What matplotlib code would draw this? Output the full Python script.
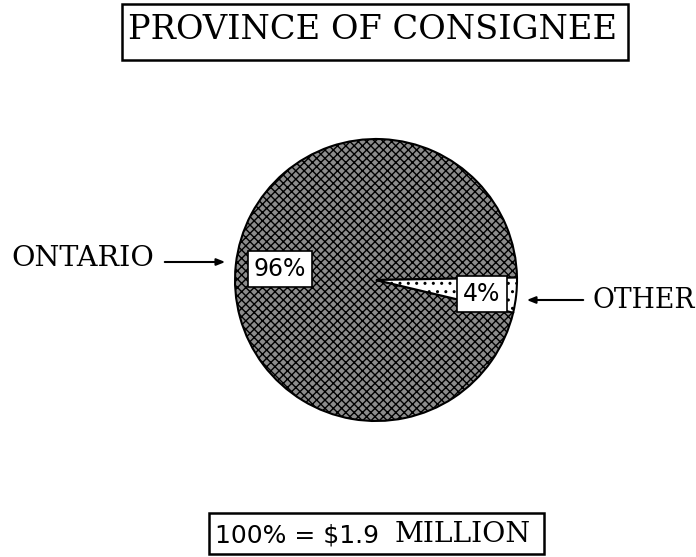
import numpy as np
import matplotlib.pyplot as plt
from matplotlib.patches import Rectangle

plt.rcParams['hatch.linewidth'] = 1.0

# data
provinces = ['ONTARIO', 'OTHER']
shares = [96, 4]
total_millions = 1.9
title = 'PROVINCE OF CONSIGNEE'

W, H = 696, 557
serif = 'DejaVu Serif'
sans = 'DejaVu Sans'

fig = plt.figure(figsize=(W / 100, H / 100), dpi=100)
ax = fig.add_axes([0, 0, 1, 1])

# pie (pixel coordinates, y measured from the bottom)
cx, cy, r = 376, H - 280, 141
wedges, _ = ax.pie(shares, startangle=1, center=(cx, cy), radius=r,
                   colors=['white', 'white'],
                   wedgeprops=dict(edgecolor='black', linewidth=1.5))
wedges[0].set_hatch('xxxx')
wedges[0].set_facecolor('#8c8c8c')
wedges[1].set_hatch('..')

ax.set_xlim(0, W)
ax.set_ylim(0, H)
ax.set_aspect('auto')
ax.axis('off')


def fit_width(t, width):
    # scale the font so the text spans the given pixel width
    fig.canvas.draw()
    w = t.get_window_extent().width
    t.set_fontsize(t.get_fontsize() * width / w)


# percentage boxes
ax.text(280, H - 269, f'{shares[0]}%', family=sans, fontsize=17, ha='center', va='center',
        bbox=dict(boxstyle='square,pad=0.25', fc='white', ec='black', lw=1.2))
ax.text(482, H - 294, f'{shares[1]}%', family=sans, fontsize=17, ha='center', va='center',
        bbox=dict(boxstyle='square,pad=0.25', fc='white', ec='black', lw=1.2))

# category labels with arrows
t1 = ax.text(11, H - 258, provinces[0], family=serif, fontsize=20, ha='left', va='center')
fit_width(t1, 142)
ax.annotate('', xy=(228, H - 262), xytext=(162, H - 262),
            arrowprops=dict(arrowstyle='-|>,head_length=0.5,head_width=0.2', lw=1.5, color='black'))
t2 = ax.text(695, H - 300, provinces[1], family=serif, fontsize=20, ha='right', va='center')
fit_width(t2, 102)
ax.annotate('', xy=(524, H - 300), xytext=(586, H - 300),
            arrowprops=dict(arrowstyle='-|>,head_length=0.5,head_width=0.2', lw=1.5, color='black'))

# title box
ax.add_patch(Rectangle((122, H - 60), 506, 56, fill=False, lw=1.8, ec='black'))
t3 = ax.text(373, H - 30, title, family=serif, fontsize=20, ha='center', va='center')
fit_width(t3, 488)

# total box
ax.add_patch(Rectangle((209, H - 554), 335, 41, fill=False, lw=1.8, ec='black'))
ax.text(215, H - 535, f'100% = ${total_millions}', family=sans, fontsize=18, ha='left', va='center')
t4 = ax.text(531, H - 535, 'MILLION', family=serif, fontsize=20, ha='right', va='center')
fit_width(t4, 136)

fig.savefig('out.png', dpi=100)
